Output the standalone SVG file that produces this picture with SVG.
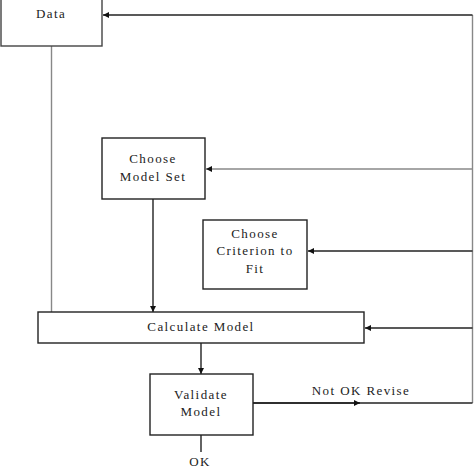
<svg xmlns="http://www.w3.org/2000/svg" width="474" height="474" viewBox="0 0 474 474">
<defs>
<marker id="ah" viewBox="0 0 10 10" refX="10" refY="5" markerWidth="6" markerHeight="6" orient="auto" markerUnits="userSpaceOnUse">
<path d="M0,0 L10,5 L0,10 z" fill="#111"/>
</marker>
</defs>
<style>
.box{fill:#fff;stroke:#222;stroke-width:1.4}
.ln{fill:none;stroke:#222;stroke-width:1.4}
.gl{fill:none;stroke:#888;stroke-width:1.4}
text{font-family:"Liberation Serif","DejaVu Serif",serif;font-size:13px;fill:#222;text-anchor:middle;letter-spacing:1.4px}
</style>
<rect width="474" height="474" fill="#fff"/>
<g id="connectors">
<polyline class="gl" points="472.5,15 472.5,403"/>
<line class="ln" x1="472.5" y1="15" x2="103" y2="15" marker-end="url(#ah)"/>
<line class="gl" x1="472.5" y1="169" x2="206" y2="169" marker-end="url(#ah)"/>
<line class="ln" x1="472.5" y1="251" x2="308" y2="251" marker-end="url(#ah)"/>
<line class="ln" x1="472.5" y1="328" x2="365" y2="328" marker-end="url(#ah)"/>
<line class="gl" x1="51.5" y1="46" x2="51.5" y2="312"/>
<line class="ln" x1="153" y1="199" x2="153" y2="312" marker-end="url(#ah)"/>
<line class="ln" x1="201" y1="343" x2="201" y2="374" marker-end="url(#ah)"/>
<line class="ln" x1="253" y1="403" x2="472.5" y2="403"/>
<line class="ln" x1="253" y1="403" x2="360" y2="403" marker-end="url(#ah)"/>
<line class="ln" x1="201" y1="435" x2="201" y2="452"/>
<text x="361" y="395">Not OK Revise</text>
<text x="200" y="466">OK</text>
</g>
<g id="data">
<rect class="box" x="1" y="-5" width="101" height="51" style="stroke:#444"/>
<text x="51" y="18">Data</text>
</g>
<g id="choose-model-set">
<rect class="box" x="102" y="138" width="103" height="61"/>
<text x="153" y="163">Choose</text>
<text x="153" y="181">Model Set</text>
</g>
<g id="choose-criterion">
<rect class="box" x="203" y="220" width="104" height="69"/>
<text x="255" y="238">Choose</text>
<text x="255" y="255">Criterion to</text>
<text x="255" y="273">Fit</text>
</g>
<g id="calculate-model">
<rect class="box" x="38" y="312" width="326" height="31"/>
<text x="201" y="331">Calculate Model</text>
</g>
<g id="validate-model">
<rect class="box" x="150" y="374" width="103" height="61"/>
<text x="201" y="399">Validate</text>
<text x="201" y="416">Model</text>
</g>
</svg>
